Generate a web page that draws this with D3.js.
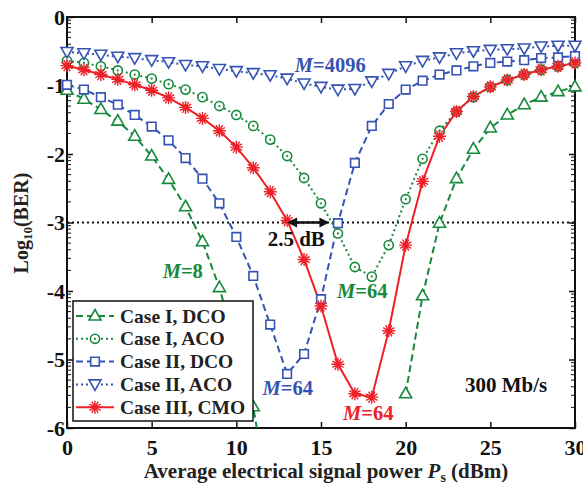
<!DOCTYPE html>
<html>
<head>
<meta charset="utf-8">
<script src="https://cdn.jsdelivr.net/npm/d3@7"></script>
<style>
  html, body { margin: 0; padding: 0; background: #fff; overflow: hidden; }
  #svg1 { display: block; }
  svg text { font-family: "Liberation Serif", "Times New Roman", serif; font-weight: bold; }
</style>
</head>
<body>
<svg id="svg1" width="583" height="488"></svg>
<script>
// signal power (dBm) - one point every 1 dBm
const powerDbm = [0,1,2,3,4,5,6,7,8,9,10,11,12,13,14,15,16,17,18,19,20,21,22,23,24,25,26,27,28,29,30];

// log10(BER), null = no point (below the plot)
const caseI_DCO  = [-1.07,-1.20,-1.35,-1.52,-1.74,-2.03,-2.37,-2.77,-3.28,-3.95,-4.85,-5.69,-7.20,
                    null,null,null,null,null,null,null,
                    -5.50,-4.07,-3.01,-2.36,-1.93,-1.62,-1.43,-1.28,-1.17,-1.09,-1.02];
const caseI_ACO  = [-0.64,-0.67,-0.72,-0.78,-0.84,-0.90,-0.98,-1.06,-1.17,-1.30,-1.43,-1.59,-1.79,-2.03,-2.35,-2.72,
                    -3.16,-3.65,-3.79,-3.33,-2.66,-2.07,-1.66,-1.38,-1.17,-1.02,-0.92,-0.84,-0.77,-0.72,-0.67];
const caseII_DCO = [-0.99,-1.06,-1.17,-1.28,-1.43,-1.60,-1.80,-2.06,-2.36,-2.72,-3.21,-3.78,-4.49,-5.21,-4.92,-4.12,
                    -3.01,-2.13,-1.59,-1.27,-1.06,-0.93,-0.84,-0.78,-0.72,-0.67,-0.65,-0.63,-0.60,-0.59,-0.57];
const caseII_ACO = [-0.51,-0.53,-0.55,-0.58,-0.60,-0.63,-0.66,-0.70,-0.72,-0.76,-0.79,-0.82,-0.85,-0.90,-0.97,-1.02,
                    -1.06,-1.05,-0.94,-0.83,-0.72,-0.64,-0.59,-0.53,-0.50,-0.48,-0.47,-0.46,-0.43,-0.42,-0.42];
const caseIII_CMO = [-0.71,-0.77,-0.84,-0.91,-0.99,-1.07,-1.18,-1.32,-1.48,-1.66,-1.90,-2.20,-2.55,-2.97,-3.54,-4.22,
                     -5.07,-5.50,-5.55,-4.58,-3.33,-2.40,-1.74,-1.38,-1.16,-1.02,-0.92,-0.84,-0.77,-0.72,-0.67];

const legendNames = ["Case I, DCO", "Case I, ACO", "Case II, DCO", "Case II, ACO", "Case III, CMO"];
const xTicks = [0,5,10,15,20,25,30];
const yTicks = [0,-1,-2,-3,-4,-5,-6];

const green = "#16893b", blue = "#3553b3", red = "#ee2028";

const series = [
  { name: legendNames[0], values: caseI_DCO,  color: green, dash: "7,4", marker: "triUp" },
  { name: legendNames[1], values: caseI_ACO,  color: green, dash: "2,3", marker: "circle" },
  { name: legendNames[2], values: caseII_DCO, color: blue,  dash: "7,4", marker: "square" },
  { name: legendNames[3], values: caseII_ACO, color: blue,  dash: "2,3", marker: "triDown" },
  { name: legendNames[4], values: caseIII_CMO, color: red,  dash: null,  marker: "star" }
];

const svg1 = d3.select("#svg1");
const width1 = +svg1.attr("width");
const height1 = +svg1.attr("height");
const margin = { top: 17, right: 8, bottom: 60, left: 67 };
const innerWidth = width1 - margin.left - margin.right;
const innerHeight = height1 - margin.top - margin.bottom;

const xScale = d3.scaleLinear().domain([0, 30]).range([0, innerWidth]);
const yScale = d3.scaleLinear().domain([-6, 0]).range([innerHeight, 0]);

const a = svg1.append("g").attr("transform", `translate(${margin.left}, ${margin.top})`);

// clip for the curves which run off the bottom
svg1.append("defs").append("clipPath").attr("id", "plotclip")
  .append("rect").attr("width", innerWidth).attr("height", innerHeight);

/* axes: ticks pointing inwards on all four sides */
const xAxis = d3.axisBottom(xScale).tickValues(xTicks).tickSizeInner(-6).tickSizeOuter(0).tickPadding(11);
const xAxisA = a.append("g").attr("transform", `translate(0, ${innerHeight})`).call(xAxis);
const xTop = a.append("g").call(d3.axisTop(xScale).tickValues(xTicks).tickSizeInner(-6).tickSizeOuter(0));
const yAxis = d3.axisLeft(yScale).tickValues(yTicks).tickSizeInner(-6).tickSizeOuter(0).tickPadding(2)
  .tickFormat(d => String(d));
const yAxisA = a.append("g").call(yAxis);
const yRight = a.append("g").attr("transform", `translate(${innerWidth}, 0)`)
  .call(d3.axisRight(yScale).tickValues(yTicks).tickSizeInner(-6).tickSizeOuter(0));

// top and right axes carry ticks only
xTop.selectAll("text").remove();
yRight.selectAll("text").remove();

[xAxisA, xTop, yAxisA, yRight].forEach(g => {
  g.select(".domain").remove();
  g.selectAll(".tick line").attr("stroke", "#111").attr("stroke-width", 1.5);
  g.selectAll("text").attr("font-size", 22).attr("fill", "#111")
    .attr("font-family", "Liberation Serif").attr("font-weight", "bold");
});

// log-style minor ticks between the decades
const minorTicks = [];
yTicks.slice(1).forEach(n => [2,3,4,5,6,7,8,9].forEach(k => minorTicks.push(n + Math.log10(k))));
a.selectAll(".minorL").data(minorTicks).enter().append("line")
  .attr("x1", 0).attr("x2", 4).attr("y1", d => yScale(d)).attr("y2", d => yScale(d))
  .attr("stroke", "#111").attr("stroke-width", 1);
a.selectAll(".minorR").data(minorTicks).enter().append("line")
  .attr("x1", innerWidth).attr("x2", innerWidth - 4).attr("y1", d => yScale(d)).attr("y2", d => yScale(d))
  .attr("stroke", "#111").attr("stroke-width", 1);

// frame
a.append("rect").attr("width", innerWidth).attr("height", innerHeight)
  .attr("fill", "none").attr("stroke", "#111").attr("stroke-width", 2);

// BER threshold line at 10^-3
a.append("line")
  .attr("x1", 0).attr("x2", innerWidth).attr("y1", yScale(-3)).attr("y2", yScale(-3))
  .attr("stroke", "#111").attr("stroke-width", 2).attr("stroke-dasharray", "2,3");

/* marker shapes */
function drawMarker(g, shape, color) {
  if (shape === "circle") {
    g.append("circle").attr("r", 4.6).attr("fill", "#fff").attr("stroke", color).attr("stroke-width", 1.6);
    g.append("circle").attr("r", 1.1).attr("fill", color);
  } else if (shape === "star") {
    g.append("path").attr("d", "M-6.5,0L6.5,0M0,-6.5L0,6.5M-3.2,-5.6L3.2,5.6M-5.6,-3.2L5.6,3.2M-3.2,5.6L3.2,-5.6M-5.6,3.2L5.6,-3.2")
      .attr("stroke", color).attr("stroke-width", 1.4).attr("fill", "none");
  } else {
    const paths = {
      triUp: "M0,-6.5L6,4L-6,4Z",
      triDown: "M0,6L6,-4.5L-6,-4.5Z",
      square: "M-4.3,-4.3H4.3V4.3H-4.3Z"
    };
    g.append("path").attr("d", paths[shape]).attr("fill", "#fff").attr("stroke", color).attr("stroke-width", 1.6);
  }
}

const line = d3.line()
  .defined(d => d.y !== null)
  .x(d => xScale(d.x))
  .y(d => yScale(d.y));

series.forEach(s => {
  const pts = powerDbm.map((x, i) => ({ x: x, y: s.values[i] }));
  a.append("path").datum(pts)
    .attr("d", line)
    .attr("clip-path", "url(#plotclip)")
    .attr("fill", "none")
    .attr("stroke", s.color)
    .attr("stroke-width", 2)
    .attr("stroke-dasharray", s.dash);
});
series.forEach(s => {
  powerDbm.forEach((x, i) => {
    const v = s.values[i];
    if (v === null || v < -6) return; // off the plot
    const g = a.append("g").attr("transform", `translate(${xScale(x)}, ${yScale(v)})`);
    drawMarker(g, s.marker, s.color);
  });
});

/* 2.5 dB arrow between CMO and DCO at 10^-3 */
const arrX1 = xScale(13), arrX2 = xScale(15.5), arrY = yScale(-3);
a.append("line").attr("x1", arrX1 + 6).attr("x2", arrX2 - 6).attr("y1", arrY).attr("y2", arrY)
  .attr("stroke", "#111").attr("stroke-width", 2.5);
a.append("path").attr("d", `M${arrX1},${arrY}l10,-5v10Z`).attr("fill", "#111");
a.append("path").attr("d", `M${arrX2},${arrY}l-10,-5v10Z`).attr("fill", "#111");
a.append("text").attr("x", xScale(11.85)).attr("y", yScale(-3.35))
  .attr("font-size", 21).attr("fill", "#111").text("2.5 dB");

/* M= labels */
const mLabels = [
  { x: 13.45, y: -0.80, txt: "=4096", color: blue },
  { x: 5.65,  y: -3.81, txt: "=8",    color: green },
  { x: 15.95, y: -4.10, txt: "=64",   color: green },
  { x: 11.55, y: -5.52, txt: "=64",   color: blue },
  { x: 16.30, y: -5.88, txt: "=64",   color: red }
];
mLabels.forEach(m => {
  const t = a.append("text").attr("x", xScale(m.x)).attr("y", yScale(m.y))
    .attr("font-size", 20.5).attr("fill", m.color);
  t.append("tspan").attr("font-style", "italic").text("M");
  t.append("tspan").text(m.txt);
});

a.append("text").attr("x", xScale(23.5)).attr("y", yScale(-5.47))
  .attr("font-size", 21).attr("fill", "#111").text("300 Mb/s");

/* legend */
const lg = a.append("g").attr("transform", "translate(6, 284)");
lg.append("rect").attr("width", 180).attr("height", 120)
  .attr("fill", "#fff").attr("stroke", "#111").attr("stroke-width", 1.5);
series.forEach((s, i) => {
  const yy = 15 + i * 22.8;
  lg.append("line").attr("x1", 3).attr("x2", 41).attr("y1", yy).attr("y2", yy)
    .attr("stroke", s.color).attr("stroke-width", 2).attr("stroke-dasharray", s.dash);
  drawMarker(lg.append("g").attr("transform", `translate(22, ${yy})`), s.marker, s.color);
  lg.append("text").attr("x", 47).attr("y", yy + 6.5).attr("font-size", 19.5).attr("fill", "#222").text(s.name);
});

/* axis titles */
const xl = a.append("text").attr("x", innerWidth / 2 + 5).attr("y", innerHeight + 50)
  .attr("text-anchor", "middle").attr("font-size", 21).attr("fill", "#222");
xl.append("tspan").text("Average electrical signal power ");
xl.append("tspan").attr("font-style", "italic").text("P");
xl.append("tspan").attr("font-size", 14).attr("dy", 4).text("s");
xl.append("tspan").attr("dy", -4).text(" (dBm)");

const yl = svg1.append("text").attr("transform", "translate(28, 223) rotate(-90)")
  .attr("text-anchor", "middle").attr("font-size", 20).attr("fill", "#222");
yl.append("tspan").text("Log");
yl.append("tspan").attr("font-size", 13).attr("dy", 4).text("10");
yl.append("tspan").attr("dy", -4).text("(BER)");
</script>
</body>
</html>
